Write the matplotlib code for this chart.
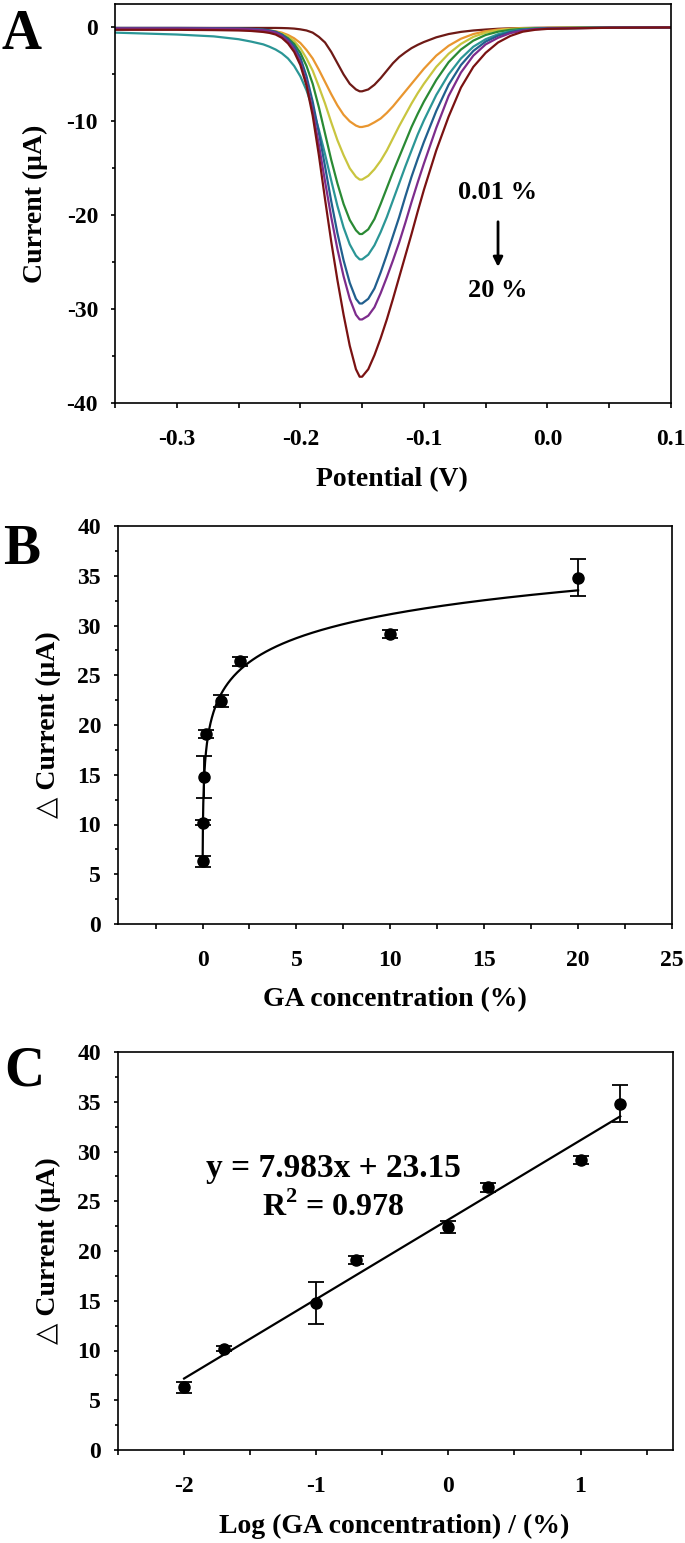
import numpy as np
import matplotlib
matplotlib.use('Agg')
import matplotlib.pyplot as plt
from matplotlib.ticker import MultipleLocator, FixedLocator, FormatStrFormatter

plt.rcParams['font.family'] = ['Liberation Serif', 'DejaVu Sans']
plt.rcParams['font.weight'] = 'bold'
plt.rcParams['axes.unicode_minus'] = False
plt.rcParams['mathtext.fontset'] = 'custom'
plt.rcParams['mathtext.rm'] = 'Liberation Serif'
plt.rcParams['mathtext.bf'] = 'Liberation Serif:bold'

# ---- panel A: voltammograms, current (uA) ----
potential = [-0.35, -0.30, -0.27, -0.25, -0.24, -0.23, -0.225, -0.22, -0.215, -0.21,
             -0.205, -0.20, -0.195, -0.19, -0.185, -0.18, -0.175, -0.17, -0.165, -0.16,
             -0.155, -0.152, -0.15, -0.145, -0.14, -0.135, -0.13, -0.125, -0.12, -0.115,
             -0.11, -0.105, -0.10, -0.09, -0.08, -0.07, -0.06, -0.05, -0.04, -0.03,
             -0.02, -0.01, 0.0, 0.05, 0.10]

cur_001 = [-0.05, -0.05, -0.05, -0.05, -0.05, -0.05, -0.05, -0.05, -0.06, -0.08,
           -0.12, -0.2, -0.32, -0.55, -1.0, -1.6, -2.6, -3.8, -5.0, -6.0,
           -6.6, -6.8, -6.8, -6.6, -6.1, -5.4, -4.6, -3.8, -3.15, -2.65,
           -2.2, -1.85, -1.55, -1.05, -0.7, -0.47, -0.32, -0.22, -0.14, -0.09,
           -0.06, -0.04, -0.03, 0.0, 0.0]
cur_002 = [-0.15, -0.15, -0.17, -0.2, -0.22, -0.27, -0.32, -0.4, -0.55, -0.8,
           -1.15, -1.65, -2.4, -3.3, -4.5, -5.8, -7.1, -8.3, -9.3, -10.0,
           -10.45, -10.6, -10.6, -10.45, -10.1, -9.7, -9.1, -8.4, -7.6, -6.8,
           -6.0, -5.2, -4.4, -3.0, -1.95, -1.2, -0.7, -0.4, -0.22, -0.13,
           -0.08, -0.06, -0.05, 0.0, 0.0]
cur_01 = [-0.15, -0.15, -0.17, -0.2, -0.22, -0.28, -0.34, -0.45, -0.65, -0.95,
          -1.45, -2.2, -3.3, -4.6, -6.3, -8.1, -10.1, -12.0, -13.6, -15.0,
          -15.9, -16.2, -16.2, -15.8, -15.1, -14.2, -13.1, -11.8, -10.5, -9.3,
          -8.1, -7.0, -6.0, -4.2, -2.8, -1.75, -1.0, -0.55, -0.3, -0.17,
          -0.1, -0.07, -0.05, 0.0, 0.0]
cur_02 = [-0.15, -0.15, -0.17, -0.2, -0.23, -0.3, -0.38, -0.5, -0.75, -1.15,
          -1.75, -2.7, -4.1, -6.0, -8.5, -11.3, -14.1, -16.6, -18.8, -20.5,
          -21.6, -22.0, -22.0, -21.5, -20.4, -18.8, -17.1, -15.4, -13.8, -12.2,
          -10.6, -9.2, -7.9, -5.6, -3.7, -2.35, -1.4, -0.8, -0.45, -0.25,
          -0.15, -0.09, -0.06, -0.01, 0.0]
cur_1 = [-0.55, -0.75, -0.95, -1.25, -1.5, -1.8, -2.05, -2.35, -2.75, -3.3,
         -4.1, -5.2, -6.7, -8.6, -10.9, -13.5, -16.3, -19.0, -21.3, -23.1,
         -24.3, -24.7, -24.7, -24.2, -23.2, -21.8, -20.2, -18.4, -16.6, -14.8,
         -13.1, -11.4, -9.9, -7.2, -5.0, -3.3, -2.05, -1.25, -0.72, -0.4,
         -0.22, -0.13, -0.08, -0.02, 0.0]
cur_2 = [-0.05, -0.05, -0.07, -0.1, -0.14, -0.22, -0.3, -0.45, -0.75, -1.25,
         -2.0, -3.2, -5.2, -7.9, -11.2, -14.8, -18.5, -21.9, -24.8, -27.2,
         -28.9, -29.4, -29.4, -28.9, -27.8, -26.1, -24.2, -22.2, -20.2, -18.0,
         -15.9, -14.0, -12.2, -8.9, -6.1, -4.0, -2.5, -1.5, -0.88, -0.48,
         -0.26, -0.15, -0.1, -0.02, 0.0]
cur_10 = [-0.1, -0.1, -0.12, -0.15, -0.2, -0.3, -0.4, -0.55, -0.9, -1.45,
          -2.3, -3.7, -5.9, -8.9, -12.5, -16.4, -20.2, -23.6, -26.5, -28.9,
          -30.6, -31.1, -31.1, -30.7, -29.8, -28.3, -26.6, -24.8, -22.9, -20.8,
          -18.6, -16.5, -14.5, -10.7, -7.3, -4.8, -3.0, -1.8, -1.1, -0.6,
          -0.33, -0.18, -0.12, -0.02, 0.0]
cur_20 = [-0.25, -0.25, -0.28, -0.32, -0.37, -0.48, -0.58, -0.75, -1.1, -1.7,
          -2.6, -4.0, -6.2, -9.4, -13.6, -18.3, -22.8, -26.9, -30.6, -33.9,
          -36.4, -37.2, -37.2, -36.4, -34.9, -33.1, -31.1, -28.9, -26.6, -24.3,
          -22.0, -19.6, -17.3, -13.1, -9.5, -6.4, -4.2, -2.7, -1.6, -0.9,
          -0.45, -0.25, -0.15, -0.03, 0.0]

curves = [cur_001, cur_002, cur_01, cur_02, cur_1, cur_2, cur_10, cur_20]
colors = ['#6e1a16', '#e9962f', '#c9c53f', '#2a8a34', '#2b9696',
          '#215f8e', '#7d2c8c', '#7a1212']

# ---- panels B and C: calibration ----
conc = [0.01, 0.02, 0.1, 0.2, 1, 2, 10, 20]
delta_i = [6.3, 10.2, 14.8, 19.1, 22.4, 26.4, 29.1, 34.8]
delta_err = [0.55, 0.3, 2.1, 0.4, 0.6, 0.45, 0.4, 1.85]
slope = 7.983
intercept = 23.15

fig = plt.figure(figsize=(6.85, 15.43), dpi=100)
W, H = 685.0, 1543.0

def box(l, r, t, b):
  return [l / W, 1 - b / H, (r - l) / W, (b - t) / H]

def style(ax):
  for s in ax.spines.values():
    s.set_linewidth(1.2)
  ax.tick_params(which='both', direction='out', width=1.2, labelsize=17,
                 top=False, right=False)
  ax.tick_params(axis='x', which='both', length=3.8, pad=15)
  ax.tick_params(axis='y', which='major', length=3.2, pad=9)
  ax.tick_params(axis='y', which='minor', length=2.2)

def labels(ax, xl, yl, xpos, ypos):
  ax.set_xlabel(xl, fontsize=20, fontweight='bold')
  ax.set_ylabel(yl, fontsize=20, fontweight='bold')
  ax.xaxis.set_label_coords(xpos[0], xpos[1])
  ax.xaxis.label.set_va('center')
  ax.yaxis.set_label_coords(ypos[0], ypos[1])
  ax.yaxis.label.set_va('center')

# A
ax = fig.add_axes(box(115, 671, 4, 403))
for c, col in zip(curves, colors):
  ax.plot(potential, c, color=col, lw=1.6)
ax.set_xlim(-0.35, 0.1)
ax.set_ylim(-40, 2.5)
ax.xaxis.set_major_locator(MultipleLocator(0.1))
ax.xaxis.set_minor_locator(MultipleLocator(0.05))
ax.yaxis.set_major_locator(MultipleLocator(10))
ax.yaxis.set_minor_locator(MultipleLocator(5))
ax.xaxis.set_major_formatter(FormatStrFormatter('%.1f'))
style(ax)
labels(ax, 'Potential (V)', 'Current (μA)', (0.498, -0.193), (-0.144, 0.5))
ax.text(-0.04, -17.6, '0.01 %', fontsize=19, fontweight='bold', ha='center', va='center')
ax.annotate('', xy=(-0.04, -25.8), xytext=(-0.04, -20.4),
            arrowprops=dict(arrowstyle='-|>', color='black', lw=2, mutation_scale=14))
ax.text(-0.04, -28.0, '20 %', fontsize=19, fontweight='bold', ha='center', va='center')

# B
ax = fig.add_axes(box(118, 672, 526, 924))
ax.errorbar(conc, delta_i, yerr=delta_err, fmt='o', color='black', ms=8,
            capsize=6, elinewidth=1.3, capthick=1.3)
xs = np.logspace(np.log10(0.008), np.log10(20), 300)
ax.plot(xs, slope * np.log10(xs) + intercept, color='black', lw=1.6)
ax.set_xlim(-4.5, 25)
ax.set_ylim(0, 40)
ax.xaxis.set_major_locator(FixedLocator([0, 5, 10, 15, 20, 25]))
ax.xaxis.set_minor_locator(FixedLocator([-2.5, 2.5, 7.5, 12.5, 17.5, 22.5]))
ax.yaxis.set_major_locator(MultipleLocator(5))
ax.yaxis.set_minor_locator(MultipleLocator(2.5))
style(ax)
labels(ax, 'GA concentration (%)', '△ Current (μA)', (0.5, -0.191), (-0.126, 0.5))

# C
logc = np.log10(conc)
ax = fig.add_axes(box(118, 673, 1052, 1450))
ax.errorbar(logc, delta_i, yerr=delta_err, fmt='o', color='black', ms=8,
            capsize=6, elinewidth=1.3, capthick=1.3)
fx = np.array([logc[0], logc[-1]])
ax.plot(fx, slope * fx + intercept, color='black', lw=1.6)
ax.set_xlim(-2.5, 1.7)
ax.set_ylim(0, 40)
ax.xaxis.set_major_locator(FixedLocator([-2, -1, 0, 1]))
ax.xaxis.set_minor_locator(FixedLocator([-2.5, -1.5, -0.5, 0.5, 1.5]))
ax.yaxis.set_major_locator(MultipleLocator(5))
ax.yaxis.set_minor_locator(MultipleLocator(2.5))
style(ax)
labels(ax, 'Log (GA concentration) / (%)', '△ Current (μA)', (0.497, -0.193), (-0.126, 0.5))
ax.text(-0.87, 28.3, 'y = 7.983x + 23.15', fontsize=24, fontweight='bold', ha='center', va='center')
ax.text(-0.87, 24.4, r'R$^{\mathbf{2}}$ = 0.978', fontsize=23, fontweight='bold', ha='center', va='center')

fig.text(22 / W, 1 - 35 / H, 'A', fontsize=40, fontweight='bold', ha='center', va='center')
fig.text(22 / W, 1 - 550 / H, 'B', fontsize=40, fontweight='bold', ha='center', va='center')
fig.text(24 / W, 1 - 1072 / H, 'C', fontsize=40, fontweight='bold', ha='center', va='center')

fig.savefig('out.png', dpi=100)
